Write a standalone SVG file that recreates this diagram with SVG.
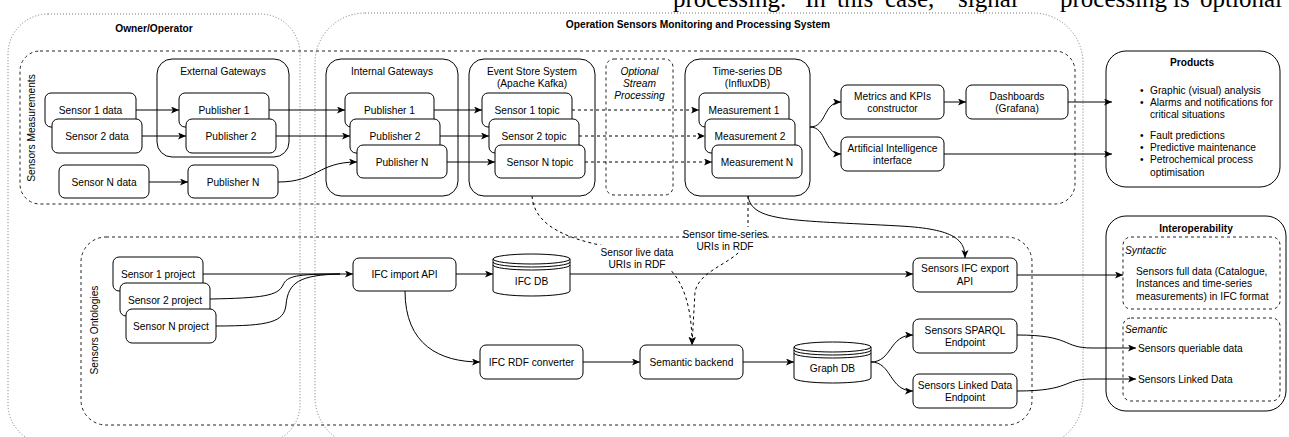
<svg xmlns="http://www.w3.org/2000/svg" width="1289" height="437" viewBox="0 0 1289 437">
<style>
.n{fill:#fff;stroke:#000;stroke-width:1}
.g{fill:#fff;stroke:#000;stroke-width:1}
.dash{fill:none;stroke:#222;stroke-width:1;stroke-dasharray:3 3}
.dot{fill:none;stroke:#777;stroke-width:1;stroke-dasharray:1 2}
.t{font-family:"Liberation Sans",Arial,sans-serif;font-size:10.2px;fill:#000;text-anchor:middle}
.s{text-anchor:start}
.b{font-weight:bold}
.i{font-style:italic}
.e{fill:none;stroke:#000;stroke-width:1}
.ed{stroke-dasharray:3 3}
.lbl{fill:#fff;stroke:none}
</style>
<defs>
<marker id="ar" markerUnits="userSpaceOnUse" markerWidth="9" markerHeight="8" refX="8" refY="3.5" orient="auto">
<path d="M0,0 L8,3.5 L0,7 L2,3.5 Z" fill="#000"/>
</marker>
</defs>
<rect width="1289" height="437" fill="#fff"/>
<text x="673" y="7" style="font-family:'Liberation Serif','Times New Roman',serif;font-size:25px;fill:#000"><tspan x="673">processing.</tspan><tspan x="805">In</tspan><tspan x="837">this</tspan><tspan x="885">case,</tspan><tspan x="958">signal</tspan><tspan x="1060">processing</tspan><tspan x="1173">is</tspan><tspan x="1200">optional</tspan></text>

<g id="owner-operator">
<rect class="dot" x="8" y="14" width="292" height="430" rx="40"/>
<text class="t b" x="154" y="31.6">Owner/Operator</text>
</g>
<g id="operation-system">
<rect class="dot" x="315" y="13" width="768" height="434" rx="50"/>
<text class="t b" x="698" y="27.6">Operation Sensors Monitoring and Processing System</text>
</g>
<g id="sensors-measurements">
<rect class="dash" x="20" y="51" width="1055" height="153" rx="20"/>
<text class="t" transform="rotate(-90 31 128)" x="31" y="131.6">Sensors Measurements</text>
</g>
<g id="sensors-ontologies">
<rect class="dash" x="81" y="237" width="951" height="188" rx="25"/>
<text class="t" transform="rotate(-90 94 330)" x="94" y="333.6">Sensors Ontologies</text>
</g>

<g id="external-gateways">
<rect class="g" x="157" y="59" width="132" height="98" rx="15"/>
<text class="t" x="223" y="74.6">External Gateways</text>
</g>
<g id="internal-gateways">
<rect class="g" x="326" y="59" width="132" height="137" rx="15"/>
<text class="t" x="392" y="74.6">Internal Gateways</text>
</g>
<g id="event-store">
<rect class="g" x="469" y="59" width="126" height="137" rx="15"/>
<text class="t" x="532" y="74.6">Event Store System</text>
<text class="t" x="532" y="86.6">(Apache Kafka)</text>
</g>
<g id="optional-stream">
<rect class="dash" x="606" y="59" width="67" height="136" rx="8"/>
<text class="t i" x="639.5" y="74.6">Optional</text>
<text class="t i" x="639.5" y="86.6">Stream</text>
<text class="t i" x="639.5" y="98.6">Processing</text>
</g>
<g id="timeseries-db">
<rect class="g" x="685" y="59" width="125" height="137" rx="15"/>
<text class="t" x="747.5" y="74.6">Time-series DB</text>
<text class="t" x="747.5" y="86.6">(InfluxDB)</text>
</g>

<g id="sensor1-data"><rect class="n" x="45" y="93" width="91" height="34" rx="6"/><text class="t" x="90.5" y="113.6">Sensor 1 data</text></g>
<g id="sensor2-data"><rect class="n" x="52" y="119" width="90" height="34" rx="6"/><text class="t" x="97" y="139.6">Sensor 2 data</text></g>
<g id="sensorN-data"><rect class="n" x="59" y="165" width="90" height="33" rx="6"/><text class="t" x="104" y="185.6">Sensor N data</text></g>
<g id="ext-publisher1"><rect class="n" x="179" y="93" width="90" height="34" rx="6"/><text class="t" x="224" y="113.6">Publisher 1</text></g>
<g id="ext-publisher2"><rect class="n" x="186" y="119" width="90" height="34" rx="6"/><text class="t" x="231" y="139.6">Publisher 2</text></g>
<g id="ext-publisherN"><rect class="n" x="188" y="165" width="90" height="33" rx="6"/><text class="t" x="233" y="185.6">Publisher N</text></g>
<g id="int-publisher1"><rect class="n" x="345" y="93" width="89" height="34" rx="6"/><text class="t" x="389.5" y="113.6">Publisher 1</text></g>
<g id="int-publisher2"><rect class="n" x="350" y="119" width="90" height="34" rx="6"/><text class="t" x="395" y="139.6">Publisher 2</text></g>
<g id="int-publisherN"><rect class="n" x="357" y="145" width="90" height="33" rx="6"/><text class="t" x="402" y="165.6">Publisher N</text></g>
<g id="topic1"><rect class="n" x="482" y="93" width="90" height="34" rx="6"/><text class="t" x="527" y="113.6">Sensor 1 topic</text></g>
<g id="topic2"><rect class="n" x="489" y="119" width="90" height="34" rx="6"/><text class="t" x="534" y="139.6">Sensor 2 topic</text></g>
<g id="topicN"><rect class="n" x="495" y="145" width="90" height="33" rx="6"/><text class="t" x="540" y="165.6">Sensor N topic</text></g>
<g id="measurement1"><rect class="n" x="699" y="93" width="90" height="34" rx="6"/><text class="t" x="744" y="113.6">Measurement 1</text></g>
<g id="measurement2"><rect class="n" x="705" y="119" width="90" height="34" rx="6"/><text class="t" x="750" y="139.6">Measurement 2</text></g>
<g id="measurementN"><rect class="n" x="712" y="145" width="90" height="33" rx="6"/><text class="t" x="757" y="165.6">Measurement N</text></g>
<g id="metrics"><rect class="n" x="841" y="85" width="103" height="34" rx="6"/><text class="t" x="892.5" y="99.6">Metrics and KPIs</text><text class="t" x="892.5" y="111.6">constructor</text></g>
<g id="ai-interface"><rect class="n" x="841" y="137" width="103" height="34" rx="6"/><text class="t" x="892.5" y="151.6">Artificial Intelligence</text><text class="t" x="892.5" y="163.6">interface</text></g>
<g id="dashboards"><rect class="n" x="966" y="85" width="102" height="34" rx="6"/><text class="t" x="1017" y="99.6">Dashboards</text><text class="t" x="1017" y="111.6">(Grafana)</text></g>

<g id="products">
<rect class="n" x="1106" y="51" width="174" height="136" rx="20"/>
<text class="t b" x="1192" y="65.6">Products</text>
<text class="t s" x="1140" y="93.6">•</text><text class="t s" x="1150" y="93.6">Graphic (visual) analysis</text>
<text class="t s" x="1140" y="105.6">•</text><text class="t s" x="1150" y="105.6">Alarms and notifications for</text>
<text class="t s" x="1150" y="117.6">critical situations</text>
<text class="t s" x="1140" y="138.6">•</text><text class="t s" x="1150" y="138.6">Fault predictions</text>
<text class="t s" x="1140" y="150.6">•</text><text class="t s" x="1150" y="150.6">Predictive maintenance</text>
<text class="t s" x="1140" y="162.6">•</text><text class="t s" x="1150" y="162.6">Petrochemical process</text>
<text class="t s" x="1150" y="175.6">optimisation</text>
</g>

<g id="sensor1-project"><rect class="n" x="113" y="257" width="90" height="34" rx="6"/><text class="t" x="158" y="277.6">Sensor 1 project</text></g>
<g id="sensor2-project"><rect class="n" x="120" y="283" width="90" height="33" rx="6"/><text class="t" x="165" y="303.6">Sensor 2 project</text></g>
<g id="sensorN-project"><rect class="n" x="126" y="309" width="90" height="34" rx="6"/><text class="t" x="171" y="329.6">Sensor N project</text></g>
<g id="ifc-import"><rect class="n" x="353" y="258" width="103" height="33" rx="6"/><text class="t" x="404.5" y="277.6">IFC import API</text></g>
<g id="ifc-db">
<path class="n" d="M493,259 A38.5,5 0 0 1 570,259 L570,291 A38.5,5 0 0 1 493,291 Z"/>
<path class="e" d="M493,259 A38.5,5 0 0 0 570,259 M493,262 A38.5,5 0 0 0 570,262 M493,265 A38.5,5 0 0 0 570,265"/>
<text class="t" x="531.5" y="284.6">IFC DB</text>
</g>
<g id="ifc-rdf"><rect class="n" x="480" y="345" width="103" height="34" rx="6"/><text class="t" x="531.5" y="365.6">IFC RDF converter</text></g>
<g id="semantic-backend"><rect class="n" x="640" y="345" width="103" height="34" rx="6"/><text class="t" x="691.5" y="365.6">Semantic backend</text></g>
<g id="graph-db">
<path class="n" d="M794,347 A38.5,5 0 0 1 871,347 L871,378 A38.5,5 0 0 1 794,378 Z"/>
<path class="e" d="M794,347 A38.5,5 0 0 0 871,347 M794,350 A38.5,5 0 0 0 871,350 M794,353 A38.5,5 0 0 0 871,353"/>
<text class="t" x="832.5" y="371.6">Graph DB</text>
</g>
<g id="ifc-export"><rect class="n" x="913" y="258" width="104" height="34" rx="6"/><text class="t" x="965" y="271.6">Sensors IFC export</text><text class="t" x="965" y="284.6">API</text></g>
<g id="sparql"><rect class="n" x="913" y="319" width="104" height="34" rx="6"/><text class="t" x="965" y="333.6">Sensors SPARQL</text><text class="t" x="965" y="345.6">Endpoint</text></g>
<g id="linked-data"><rect class="n" x="913" y="374" width="104" height="34" rx="6"/><text class="t" x="965" y="388.6">Sensors Linked Data</text><text class="t" x="965" y="400.6">Endpoint</text></g>

<g id="interoperability">
<rect class="n" x="1106" y="216" width="180" height="195" rx="20"/>
<text class="t b" x="1196" y="231.6">Interoperability</text>
<rect class="dash" x="1123" y="237" width="157" height="72" rx="8"/>
<text class="t i s" x="1125" y="253.6">Syntactic</text>
<text class="t s" x="1136" y="274.6">Sensors full data (Catalogue,</text>
<text class="t s" x="1136" y="286.6">Instances and time-series</text>
<text class="t s" x="1136" y="299.6">measurements) in IFC format</text>
<rect class="dash" x="1123" y="318" width="157" height="83" rx="8"/>
<text class="t i s" x="1125" y="332.6">Semantic</text>
<text class="t s" x="1138" y="351.6">Sensors queriable data</text>
<text class="t s" x="1138" y="382.6">Sensors Linked Data</text>
</g>

<g id="connectors">
<path class="e" marker-end="url(#ar)" d="M136,110 L179,110"/>
<path class="e" marker-end="url(#ar)" d="M142,136 L186,136"/>
<path class="e" marker-end="url(#ar)" d="M149,182 L188,182"/>
<path class="e" marker-end="url(#ar)" d="M269,110 L345,110"/>
<path class="e" marker-end="url(#ar)" d="M276,136 L350,136"/>
<path class="e" marker-end="url(#ar)" d="M278,182 C318,182 317,162 357,162"/>
<path class="e" marker-end="url(#ar)" d="M434,110 L482,110"/>
<path class="e" marker-end="url(#ar)" d="M440,136 L489,136"/>
<path class="e" marker-end="url(#ar)" d="M447,162 L495,162"/>
<path class="e ed" marker-end="url(#ar)" d="M572,110 L699,110"/>
<path class="e ed" marker-end="url(#ar)" d="M579,136 L705,136"/>
<path class="e ed" marker-end="url(#ar)" d="M585,162 L712,162"/>
<path class="e" marker-end="url(#ar)" d="M810,127 C827,127 823,102 841,102"/>
<path class="e" marker-end="url(#ar)" d="M810,127 C827,127 823,154 841,154"/>
<path class="e" marker-end="url(#ar)" d="M944,102 L966,102"/>
<path class="e" marker-end="url(#ar)" d="M1068,102 L1112,102"/>
<path class="e" marker-end="url(#ar)" d="M944,154 L1112,154"/>
<path class="e" marker-end="url(#ar)" d="M203,274 L353,274"/>
<path class="e" d="M210,299 C262,298 278,296 283,285 C287,276 296,274 340,274"/>
<path class="e" d="M216,326 C270,326 284,322 286,305 C288,282 300,275 340,274"/>
<path class="e" marker-end="url(#ar)" d="M456,274 L493,274"/>
<path class="e" marker-end="url(#ar)" d="M570,274 L913,274"/>
<path class="e" marker-end="url(#ar)" d="M405,291 C405,345 440,362 480,362"/>
<path class="e" marker-end="url(#ar)" d="M583,362 L640,362"/>
<path class="e" marker-end="url(#ar)" d="M743,362 L794,362"/>
<path class="e" marker-end="url(#ar)" d="M871,362 C892,362 889,335 913,335"/>
<path class="e" marker-end="url(#ar)" d="M871,362 C892,362 889,391 913,391"/>
<path class="e" marker-end="url(#ar)" d="M748,196 C752,222 790,220 900,226 C955,229 965,240 965,258"/>
<path class="e ed" marker-end="url(#ar)" d="M532,196 C535,238 600,245 637,252 C680,260 692,300 692,345"/>
<path class="e ed" marker-end="url(#ar)" d="M748,196 L748,235 C746,262 700,266 695,292 L692,345"/>
<path class="e" marker-end="url(#ar)" d="M1017,275 L1123,275"/>
<path class="e" marker-end="url(#ar)" d="M1017,335 C1072,335 1062,348 1092,348 L1136,348"/>
<path class="e" marker-end="url(#ar)" d="M1017,391 C1072,391 1062,379 1092,379 L1136,379"/>
<rect class="lbl" x="598" y="245" width="79" height="25"/>
<text class="t" x="637" y="255.6">Sensor live data</text>
<text class="t" x="637" y="267.6">URIs in RDF</text>
<rect class="lbl" x="685" y="227" width="81" height="25"/>
<text class="t" x="725" y="237.6">Sensor time-series</text>
<text class="t" x="725" y="249.6">URIs in RDF</text>
</g>
</svg>
